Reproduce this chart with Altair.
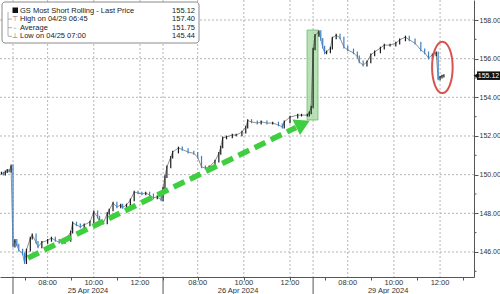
import altair as alt
import pandas as pd

# ---------------- data ----------------
date_labels = ["25 Apr 2024", "26 Apr 2024", "29 Apr 2024"]

t_24 = ["12:30", "12:35", "12:40", "12:45", "12:50", "12:55"]
p_24 = [150.08, 150.02, 150.15, 150.22, 150.18, 150.45]

t_25 = ["06:30", "06:35", "06:40", "06:45", "06:55", "07:00", "07:05", "07:15", "07:20", "07:30",
        "07:35", "07:45", "08:00", "08:10", "08:20", "08:30", "08:45", "09:00", "09:05", "09:15",
        "09:25", "09:35", "09:50", "10:00", "10:10", "10:15", "10:25", "10:35", "10:40", "10:50",
        "11:00", "11:10", "11:15", "11:25", "11:35", "11:45", "11:55", "12:05", "12:15", "12:25",
        "12:35", "12:45", "12:55"]
p_25 = [146.3, 146.6, 146.36, 146.1, 145.9, 145.45, 146.1, 146.72, 146.88, 146.5,
        146.26, 146.5, 146.6, 146.72, 146.6, 146.5, 146.6, 147.03, 147.5, 147.4,
        147.3, 147.4, 147.55, 148.07, 147.8, 147.55, 147.5, 148.0, 148.17, 148.53,
        148.33, 148.43, 148.3, 148.43, 148.69, 149.1, 149.05, 149.0, 149.05, 148.95,
        148.8, 148.85, 148.7]

t_26 = ["06:30", "06:35", "06:40", "06:50", "06:55", "07:10", "07:20", "07:35", "07:50", "08:00",
        "08:10", "08:20", "08:30", "08:45", "08:55", "09:00", "09:05", "09:15", "09:30", "09:40",
        "09:55", "10:05", "10:10", "10:20", "10:35", "10:45", "11:00", "11:15", "11:30", "11:40",
        "11:45", "12:00", "12:20", "12:30", "12:45", "12:50", "12:55"]
p_26 = [149.3, 149.9, 150.4, 150.9, 151.17, 151.38, 151.3, 151.17, 151.1, 150.9,
        150.4, 150.34, 150.4, 150.7, 151.1, 151.43, 151.9, 151.95, 152.05, 152.05,
        152.2, 152.46, 152.8, 152.73, 152.67, 152.73, 152.67, 152.67, 152.57, 152.46,
        152.73, 152.98, 153.08, 153.08, 153.08, 153.2, 153.5]

t_29 = ["06:30", "06:35", "06:45", "06:50", "06:55", "07:00", "07:05", "07:15", "07:20", "07:30",
        "07:40", "07:50", "08:00", "08:15", "08:25", "08:30", "08:40", "08:50", "09:00", "09:10",
        "09:25", "09:35", "09:50", "10:05", "10:15", "10:30", "10:40", "10:55", "11:10", "11:20",
        "11:30", "11:40", "11:50", "11:55", "12:00", "12:05", "12:10"]
p_29 = [156.5, 157.2, 157.4, 157.0, 156.6, 156.3, 156.35, 156.55, 157.07, 157.22,
        157.07, 156.6, 156.45, 156.3, 156.1, 155.83, 155.67, 155.83, 156.2, 156.35,
        156.55, 156.7, 156.7, 156.8, 156.97, 157.12, 156.97, 156.8, 156.45, 156.3,
        156.03, 156.2, 156.3, 154.95, 155.05, 155.1, 155.12]

legend_labels = ["GS Most Short Rolling - Last Price", "High on 04/29 06:45", "Average", "Low on 04/25 07:00"]
legend_values = ["155.12", "157.40", "151.75", "145.44"]
last_price = 155.12

y_ticks = [146, 148, 150, 152, 154, 156, 158]
y_minor = [145, 147, 149, 151, 153, 155, 157]
x_grid_hours = [6.5, 8, 10, 12]          # day start + labelled hours
x_label_hours = [8, 10, 12]
x_label_text = ["08:00", "10:00", "12:00"]
tick_hours = [7, 8, 9, 10, 11, 12, 13]

# annotation anchors in data units (trading-hour axis, price)
arrow_start = (0.65, 145.69)
arrow_end = (12.26, 152.44)
arrow_head = (12.56, 152.62)
box_x = (12.74, 13.21)
box_y = (152.83, 157.48)
ellipse_c = (18.6, 155.55)

# ---------------- helpers ----------------
SESSION = 6.5  # trading hours per day, 06:30 - 13:00


def hpos(d, t):
    hh, mm = t.split(":")
    return d * SESSION + int(hh) + int(mm) / 60 - 6.5


rows = []
for d, ts, ps in [(-1, t_24, p_24), (0, t_25, p_25), (1, t_26, p_26), (2, t_29, p_29)]:
    for t, p in zip(ts, ps):
        rows.append({"h": hpos(d, t), "price": p})
df = pd.DataFrame(rows)
df["prev"] = df["price"].shift(1).fillna(df["price"])
df["lo"] = df[["price", "prev"]].min(axis=1) - 0.07
df["hi"] = df[["price", "prev"]].max(axis=1) + 0.07
df["dir"] = ["up" if p >= q else "down" for p, q in zip(df["price"], df["prev"])]

W, H = 474, 277
xdom = [-0.563, 19.97]
ydom = [144.705, 159.035]
xs = alt.Scale(domain=xdom, nice=False, zero=False)
ys = alt.Scale(domain=ydom, nice=False, zero=False)

FONT = "Liberation Sans"
AXC = "#555555"
TXT = "#333333"

tick_vals = [d * SESSION + t - 6.5 for d in range(3) for t in tick_hours]
one = pd.DataFrame({"a": [0]})

# ---------------- layers ----------------
xgrid = alt.Chart(pd.DataFrame({"h": [d * SESSION + t - 6.5 for d in range(3) for t in x_grid_hours]})).mark_rule(
    color="#b5b5b5", strokeDash=[2, 2], strokeWidth=1
).encode(x=alt.X("h:Q", scale=xs))

ygrid = alt.Chart(pd.DataFrame({"v": y_ticks})).mark_rule(
    color="#b5b5b5", strokeDash=[2, 2], strokeWidth=1
).encode(y=alt.Y("v:Q", scale=ys))

box = alt.Chart(pd.DataFrame({"x1": [box_x[0]], "x2": [box_x[1]], "y1": [box_y[0]], "y2": [box_y[1]]})).mark_rect(
    fill="#a6dba2", fillOpacity=0.8, stroke="#7cc47a", strokeWidth=1
).encode(x=alt.X("x1:Q", scale=xs), x2="x2:Q", y=alt.Y("y1:Q", scale=ys), y2="y2:Q")

line = alt.Chart(df).mark_line(color="#444444", strokeWidth=0.6).encode(
    x=alt.X("h:Q", scale=xs,
            axis=alt.Axis(values=tick_vals, labels=False, grid=False, tickSize=3,
                          tickColor=AXC, domainColor=AXC, title=None)),
    y=alt.Y("price:Q", scale=ys,
            axis=alt.Axis(orient="right", values=y_ticks, format=".2f", grid=False, tickSize=4,
                          tickColor=AXC, domainColor=AXC, labelColor=TXT, labelFont=FONT,
                          labelFontSize=7, labelPadding=1, title=None)),
)

bars = alt.Chart(df).mark_rule(strokeWidth=1.2).encode(
    x=alt.X("h:Q", scale=xs),
    y=alt.Y("lo:Q", scale=ys),
    y2="hi:Q",
    color=alt.Color("dir:N", scale=alt.Scale(domain=["up", "down"], range=["#1a1a1a", "#3b7fc4"]), legend=None),
)

arrow = alt.Chart(pd.DataFrame({"h": [arrow_start[0], arrow_end[0]], "v": [arrow_start[1], arrow_end[1]]})).mark_line(
    color="#3fce3f", strokeWidth=5.5, strokeDash=[12, 6], strokeCap="butt"
).encode(x=alt.X("h:Q", scale=xs), y=alt.Y("v:Q", scale=ys))

head = alt.Chart(pd.DataFrame({"h": [arrow_head[0]], "v": [arrow_head[1]]})).mark_point(
    shape="triangle-right", filled=True, color="#3fce3f", size=300, angle=334, opacity=1
).encode(x=alt.X("h:Q", scale=xs), y=alt.Y("v:Q", scale=ys))

ellipse = alt.Chart(pd.DataFrame({"h": [ellipse_c[0]], "v": [ellipse_c[1]]})).mark_point(
    shape="M0,-1 A0.4,1 0 1,1 0,1 A0.4,1 0 1,1 0,-1 Z", filled=False, stroke="#d9534f",
    strokeWidth=2, size=2650, opacity=1
).encode(x=alt.X("h:Q", scale=xs), y=alt.Y("v:Q", scale=ys))

yminor = alt.Chart(pd.DataFrame({"v": y_minor})).mark_rule(color=AXC, strokeWidth=1).encode(
    y=alt.Y("v:Q", scale=ys), x=alt.value(W), x2=alt.value(W + 2.5)
)

day_ticks = alt.Chart(pd.DataFrame({"h": [0.0, SESSION, 2 * SESSION]})).mark_rule(color=AXC, strokeWidth=1).encode(
    x=alt.X("h:Q", scale=xs), y=alt.value(H), y2=alt.value(H + 17)
)

xl = pd.DataFrame({
    "h": [d * SESSION + t - 6.5 for d in range(3) for t in x_label_hours],
    "lab": [s for d in range(3) for s in x_label_text],
})
xlabels = alt.Chart(xl).mark_text(font=FONT, fontSize=7.5, color=TXT, baseline="middle").encode(
    x=alt.X("h:Q", scale=xs), y=alt.value(H + 5.5), text="lab:N")

dates = alt.Chart(pd.DataFrame({"h": [d * SESSION + SESSION / 2 for d in range(3)], "lab": date_labels})).mark_text(
    font=FONT, fontSize=7.5, color=TXT, baseline="middle"
).encode(x=alt.X("h:Q", scale=xs), y=alt.value(H + 13.5), text="lab:N")

# legend box
leg_layers = [
    alt.Chart(one).mark_rect(fill="white", stroke="#8a8a8a", strokeWidth=1, cornerRadius=3).encode(
        x=alt.value(2), x2=alt.value(199), y=alt.value(2), y2=alt.value(43)),
    alt.Chart(one).mark_rule(color="#9a9a9a", strokeWidth=0.8).encode(
        x=alt.value(8), y=alt.value(12), y2=alt.value(36)),
    alt.Chart(one).mark_rect(fill="#111111").encode(
        x=alt.value(12.5), x2=alt.value(18), y=alt.value(7.5), y2=alt.value(13)),
]
glyphs = ["", "⊤", "–", "⊥"]
for i, (lab, val) in enumerate(zip(legend_labels, legend_values)):
    yy = 10.5 + i * 8.6
    if glyphs[i]:
        leg_layers.append(alt.Chart(one).mark_text(font="DejaVu Sans", fontSize=7, color="#777777",
                                                   align="center", baseline="middle").encode(
            x=alt.value(15), y=alt.value(yy), text=alt.value(glyphs[i])))
        leg_layers.append(alt.Chart(one).mark_rule(color="#9a9a9a", strokeWidth=0.8).encode(
            x=alt.value(8), x2=alt.value(12), y=alt.value(yy)))
    leg_layers.append(alt.Chart(one).mark_text(font=FONT, fontSize=7.5, color="#222222",
                                               align="left", baseline="middle").encode(
        x=alt.value(20), y=alt.value(yy), text=alt.value(lab)))
    leg_layers.append(alt.Chart(one).mark_text(font=FONT, fontSize=7.5, color="#222222",
                                               align="right", baseline="middle").encode(
        x=alt.value(195), y=alt.value(yy), text=alt.value(val)))

lp = pd.DataFrame({"v": [last_price], "lo": [last_price - 0.22], "hi": [last_price + 0.22],
                   "lab": [f"{last_price:.2f}"]})
lp_box = alt.Chart(lp).mark_rect(fill="#111111").encode(
    x=alt.value(477), x2=alt.value(500), y=alt.Y("lo:Q", scale=ys), y2="hi:Q")
lp_tri = alt.Chart(lp).mark_point(shape="triangle-left", filled=True, color="#111111", size=30, opacity=1).encode(
    x=alt.value(476), y=alt.Y("v:Q", scale=ys))
lp_txt = alt.Chart(lp).mark_text(font=FONT, fontSize=7, color="white", align="center", baseline="middle").encode(
    x=alt.value(488.5), y=alt.Y("v:Q", scale=ys), text="lab:N")

chart = alt.layer(
    xgrid, ygrid, box, line, bars, arrow, head, ellipse, yminor, day_ticks, xlabels, dates,
    *leg_layers, lp_box, lp_tri, lp_txt
).properties(
    width=W, height=H,
    autosize=alt.AutoSizeParams(type="none"),
    padding={"left": 0, "top": 0, "right": 26, "bottom": 17},
    background="white",
).configure_view(stroke=None)

chart.save("out.html", embed_options={"renderer": "svg", "actions": False})
